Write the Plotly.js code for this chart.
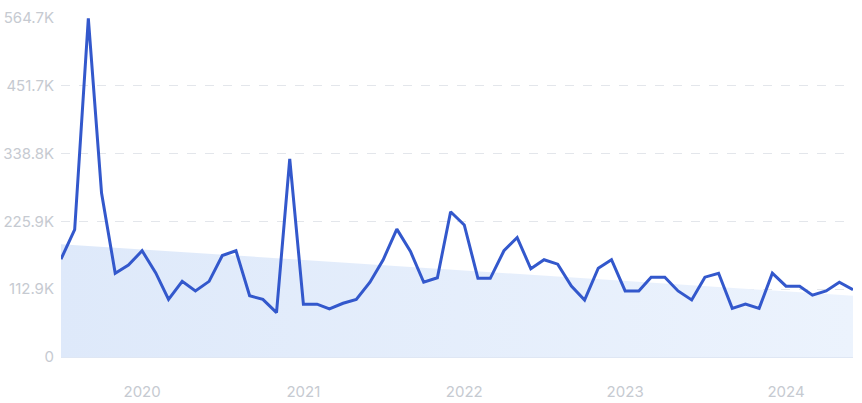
<!DOCTYPE html>
<html>
<head>
<meta charset="utf-8">
<script src="https://cdn.plot.ly/plotly-3.0.1.min.js"></script>
<style>
html,body{margin:0;padding:0;background:#fff;}
#chart{width:862px;height:403px;}
</style>
</head>
<body>
<div id="chart"></div>
<script>
// Months Jul 2019 .. Jun 2024
const months = [];
(function(){
  let y = 2019, m = 7;
  for (let i = 0; i < 60; i++) {
    months.push(y + '-' + String(m).padStart(2,'0') + '-01');
    m++; if (m > 12) { m = 1; y++; }
  }
})();

const traffic = [
  163000, 212000, 564000, 273000, 139600, 153000, 177000, 140000, 96000, 126000,
  110000, 126000, 169000, 177000, 102000, 96000, 74000, 330000, 88000, 88000,
  80000, 89500, 96000, 124500, 162000, 213000, 175700, 124500, 132000, 242000,
  220000, 131000, 131000, 177000, 199000, 147000, 162000, 154600, 118000, 95000,
  148000, 162000, 110000, 110000, 133000, 133000, 110000, 95000, 133000, 139600,
  81000, 88000, 81000, 139600, 118000, 118000, 103000, 110000, 124500, 112000
];

const trendX = ['2019-07-01', '2024-06-01'];
const trendY = [188000, 102000];

const yTickVals = [0, 112900, 225900, 338800, 451700, 564700];
const yTickText = ['0', '112.9K', '225.9K', '338.8K', '451.7K', '564.7K'];
const xTickVals = ['2020-01-01', '2021-01-01', '2022-01-01', '2023-01-01', '2024-01-01'];
const xTickText = ['2020', '2021', '2022', '2023', '2024'];

const traces = [
  {
    x: trendX, y: trendY, type: 'scatter', mode: 'lines',
    line: {width: 0, color: 'rgba(0,0,0,0)'},
    fill: 'tozeroy',
    fillgradient: {type: 'horizontal', colorscale: [[0, 'rgb(222,233,250)'], [1, 'rgb(236,243,253)']]},
    hoverinfo: 'skip', showlegend: false
  },
  {
    x: months, y: traffic, type: 'scatter', mode: 'lines',
    line: {color: '#3358cc', width: 3},
    showlegend: false
  }
];

const layout = {
  width: 862, height: 403,
  margin: {l: 61, r: 9, t: 18, b: 46},
  paper_bgcolor: '#ffffff', plot_bgcolor: '#ffffff',
  font: {family: 'Inter, Roboto, sans-serif', size: 15, color: '#c6cad1'},
  xaxis: {
    type: 'date',
    range: ['2019-07-01', '2024-06-01'],
    tickvals: xTickVals, ticktext: xTickText,
    showgrid: false, zeroline: false,
    showline: true, linecolor: '#dfe7f4', linewidth: 1,
    ticks: '', ticklabelstandoff: 21,
    tickfont: {size: 15, color: '#c6cad1'}
  },
  yaxis: {
    range: [0, 564700],
    tickvals: yTickVals, ticktext: yTickText,
    showgrid: true, gridcolor: '#e3e6eb', griddash: 'dash', gridwidth: 1,
    zeroline: false, showline: false, ticks: '',
    ticklabelstandoff: 6,
    tickfont: {size: 15, color: '#c6cad1'}
  }
};

Plotly.newPlot('chart', traces, layout, {displayModeBar: false, staticPlot: true});
</script>
</body>
</html>
